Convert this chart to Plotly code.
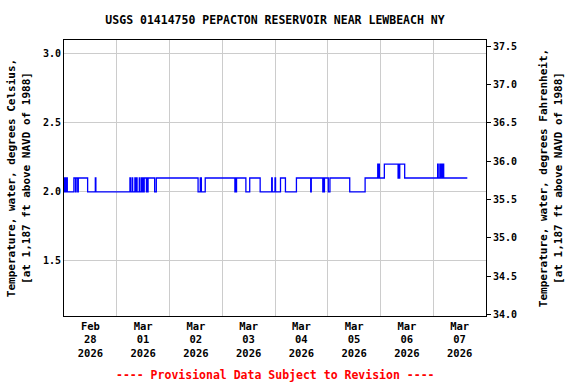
import plotly.graph_objects as go

chart_title = "USGS 01414750 PEPACTON RESERVOIR NEAR LEWBEACH NY"
footer_text = "---- Provisional Data Subject to Revision ----"
left_title = "Temperature, water, degrees Celsius,<br>[at 1,187 ft above NAVD of 1988]"
right_title = "Temperature, water, degrees Fahrenheit,<br>[at 1,187 ft above NAVD of 1988]"

# change points of the 15-minute record (value holds until next time)
change_times = [
    # Feb 28
    "2026-02-28 00:00", "2026-02-28 00:15", "2026-02-28 00:30", "2026-02-28 00:45",
    "2026-02-28 01:15", "2026-02-28 01:30", "2026-02-28 04:30", "2026-02-28 05:15",
    "2026-02-28 05:30", "2026-02-28 06:15", "2026-02-28 06:30", "2026-02-28 10:45",
    "2026-02-28 14:15", "2026-02-28 14:30",
    # Mar 01
    "2026-03-01 06:00", "2026-03-01 06:15", "2026-03-01 07:00", "2026-03-01 07:15",
    "2026-03-01 08:15", "2026-03-01 08:30", "2026-03-01 09:00", "2026-03-01 09:15",
    "2026-03-01 10:15", "2026-03-01 10:30", "2026-03-01 11:15", "2026-03-01 11:30",
    "2026-03-01 12:00", "2026-03-01 12:15", "2026-03-01 12:30", "2026-03-01 13:30",
    "2026-03-01 13:45", "2026-03-01 14:00", "2026-03-01 14:15", "2026-03-01 17:15",
    "2026-03-01 18:00",
    # Mar 02
    "2026-03-02 13:00", "2026-03-02 14:00", "2026-03-02 14:30", "2026-03-02 16:15",
    # Mar 03
    "2026-03-03 05:45", "2026-03-03 06:00", "2026-03-03 06:15", "2026-03-03 06:30",
    "2026-03-03 10:45", "2026-03-03 12:30", "2026-03-03 17:15", "2026-03-03 22:30",
    "2026-03-03 22:45",
    # Mar 04
    "2026-03-04 00:00", "2026-03-04 00:15", "2026-03-04 02:30", "2026-03-04 04:45",
    "2026-03-04 09:45", "2026-03-04 16:15", "2026-03-04 16:30", "2026-03-04 21:45",
    "2026-03-04 22:00", "2026-03-04 22:15", "2026-03-04 22:30",
    # Mar 05
    "2026-03-05 00:15", "2026-03-05 01:00", "2026-03-05 10:00", "2026-03-05 17:00",
    "2026-03-05 22:45", "2026-03-05 23:00", "2026-03-05 23:15", "2026-03-05 23:30",
    # Mar 06
    "2026-03-06 01:45", "2026-03-06 08:00", "2026-03-06 08:15", "2026-03-06 08:30",
    "2026-03-06 08:45", "2026-03-06 11:00",
    # Mar 07
    "2026-03-07 02:00", "2026-03-07 02:15", "2026-03-07 03:00", "2026-03-07 03:15",
    "2026-03-07 03:45", "2026-03-07 04:00", "2026-03-07 04:30", "2026-03-07 04:45",
    "2026-03-07 15:30",
]
temp_c = [
    # Feb 28
    2.1, 2.0, 2.1, 2.0,
    2.1, 2.0, 2.1, 2.0,
    2.1, 2.0, 2.1, 2.0,
    2.1, 2.0,
    # Mar 01
    2.1, 2.0, 2.1, 2.0,
    2.1, 2.0, 2.1, 2.0,
    2.1, 2.0, 2.1, 2.0,
    2.1, 2.0, 2.1, 2.0,
    2.1, 2.0, 2.1, 2.0,
    2.1,
    # Mar 02
    2.0, 2.1, 2.0, 2.1,
    # Mar 03
    2.0, 2.1, 2.0, 2.1,
    2.0, 2.1, 2.0, 2.1,
    2.0,
    # Mar 04
    2.1, 2.0, 2.1, 2.0,
    2.1, 2.0, 2.1, 2.0,
    2.1, 2.0, 2.1,
    # Mar 05
    2.0, 2.1, 2.0, 2.1,
    2.2, 2.1, 2.2, 2.1,
    # Mar 06
    2.2, 2.1, 2.2, 2.1,
    2.2, 2.1,
    # Mar 07
    2.2, 2.1, 2.2, 2.1,
    2.2, 2.1, 2.2, 2.1,
    2.1,
]

tick_dates = ["2026-02-28 12:00", "2026-03-01 12:00", "2026-03-02 12:00", "2026-03-03 12:00",
              "2026-03-04 12:00", "2026-03-05 12:00", "2026-03-06 12:00", "2026-03-07 12:00"]
tick_labels = ["Feb<br>28<br>2026", "Mar<br>01<br>2026", "Mar<br>02<br>2026", "Mar<br>03<br>2026",
               "Mar<br>04<br>2026", "Mar<br>05<br>2026", "Mar<br>06<br>2026", "Mar<br>07<br>2026"]
x_range = ["2026-02-28 00:00", "2026-03-08 00:00"]
c_range = [1.1, 3.1]
c_ticks = [1.5, 2.0, 2.5, 3.0]
f_ticks = [34.0, 34.5, 35.0, 35.5, 36.0, 36.5, 37.0, 37.5]

f_range = [v * 1.8 + 32 for v in c_range]
temp_f = [v * 1.8 + 32 for v in temp_c]

FONT = "DejaVu Sans Mono"

fig = go.Figure()
fig.add_trace(go.Scatter(x=change_times, y=temp_c, mode="lines", line_shape="hv",
                         line=dict(color="#0000ff", width=1.3), showlegend=False,
                         hoverinfo="skip"))
fig.add_trace(go.Scatter(x=change_times, y=temp_f, mode="lines", yaxis="y2",
                         line=dict(color="rgba(0,0,0,0)", width=0), showlegend=False,
                         hoverinfo="skip"))

fig.update_layout(
    width=576, height=384,
    margin=dict(l=64, r=90, t=40, b=68),
    paper_bgcolor="white", plot_bgcolor="white",
    font=dict(family=FONT, size=11, color="black", weight="bold"),
    title=dict(text=chart_title, xref="paper", x=0.5, xanchor="center", y=1 - 20 / 384,
               yanchor="middle", font=dict(family=FONT, size=11.5, weight="bold")),
    xaxis=dict(
        range=x_range, type="date",
        tickmode="array", tickvals=tick_dates, ticktext=tick_labels,
        showgrid=False, ticks="", tickfont=dict(size=10.5, weight="bold"),
        showline=True, linecolor="black", linewidth=1, mirror=True,
        minor=dict(dtick=86400000, tick0="2026-02-28", showgrid=True,
                   gridcolor="#cccccc", gridwidth=1, ticks=""),
        zeroline=False,
    ),
    yaxis=dict(
        range=c_range, tickmode="array", tickvals=c_ticks, tickformat=".1f",
        showgrid=True, gridcolor="#cccccc", gridwidth=1, ticks="",
        showline=True, linecolor="black", linewidth=1, mirror=True,
        tickfont=dict(size=10, weight="bold"), zeroline=False,
        title=dict(text=left_title, font=dict(size=11, weight="bold"), standoff=10),
    ),
    yaxis2=dict(
        range=f_range, overlaying="y", side="right",
        tickmode="array", tickvals=f_ticks, tickformat=".1f",
        showgrid=False, ticks="outside", ticklen=4, tickcolor="black",
        showline=True, linecolor="black", linewidth=1,
        tickfont=dict(size=10, weight="bold"), zeroline=False,
        title=dict(text=right_title, font=dict(size=11, weight="bold"), standoff=23),
    ),
    annotations=[dict(text=footer_text, xref="paper", yref="paper", x=0.5, y=-(375 - 316) / 276,
                      xanchor="center", yanchor="middle", showarrow=False,
                      font=dict(family=FONT, size=11.5, color="red", weight="bold"))],
)

fig.write_html("out.html")
